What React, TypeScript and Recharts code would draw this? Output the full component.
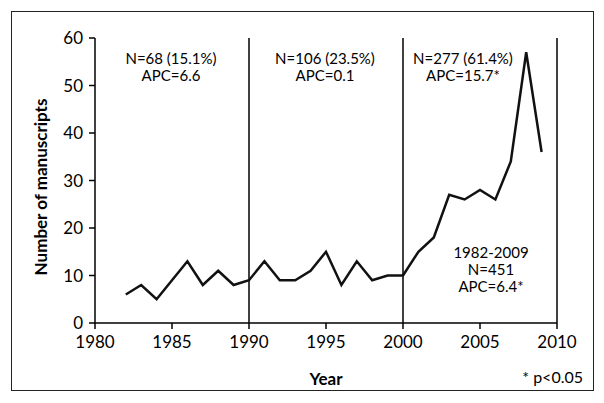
import React from 'react';
import { LineChart, Line, XAxis, YAxis, ReferenceLine, Label } from 'recharts';

// manuscripts per year
const years = [
  1982, 1983, 1984, 1985, 1986, 1987, 1988, 1989,
  1990, 1991, 1992, 1993, 1994, 1995, 1996, 1997, 1998, 1999,
  2000, 2001, 2002, 2003, 2004, 2005, 2006, 2007, 2008, 2009,
];
const counts = [
  6, 8, 5, 9, 13, 8, 11, 8,
  9, 13, 9, 9, 11, 15, 8, 13, 9, 10,
  10, 15, 18, 27, 26, 28, 26, 34, 57, 36,
];
const xTicks = [1980, 1985, 1990, 1995, 2000, 2005, 2010];
const yTicks = [0, 10, 20, 30, 40, 50, 60];
const periodBreaks = [1990, 2000, 2010];

const periodNotes = [
  { lines: ['N=68 (15.1%)', 'APC=6.6'], cx: 171, top: 50 },
  { lines: ['N=106 (23.5%)', 'APC=0.1'], cx: 325, top: 50 },
  { lines: ['N=277 (61.4%)', 'APC=15.7*'], cx: 463, top: 50 },
  { lines: ['1982-2009', 'N=451', 'APC=6.4*'], cx: 491, top: 244 },
];

const data = years.map((year, i) => ({ year, count: counts[i] }));

const FONT = 'Lato, "Open Sans", sans-serif';

export default function App() {
  const tickStyle = { fill: '#000', fontSize: 17, fontFamily: FONT };
  return (
    <div style={{ position: 'absolute', left: 0, top: 0, width: 604, height: 403, background: '#fff', fontFamily: FONT }}>
      <div
        style={{
          position: 'absolute', left: 11, top: 11, width: 583, height: 380,
          boxSizing: 'border-box', border: '1px solid #222',
        }}
      />
      <LineChart width={604} height={403} data={data} margin={{ top: 38, right: 47, bottom: 18, left: 20 }}>
        <XAxis
          dataKey="year"
          type="number"
          domain={[1980, 2010]}
          ticks={xTicks}
          tick={tickStyle}
          tickSize={6}
          tickMargin={7}
          height={62}
          stroke="#000"
          strokeWidth={1.5}
        >
          <Label
            content={() => (
              <text x={326} y={378} textAnchor="middle" dominantBaseline="central"
                style={{ fontFamily: FONT, fontSize: 17, fontWeight: 700, fill: '#000' }}>
                Year
              </text>
            )}
          />
        </XAxis>
        <YAxis
          type="number"
          domain={[0, 60]}
          ticks={yTicks}
          tick={tickStyle}
          tickSize={6}
          tickMargin={6}
          width={75}
          stroke="#000"
          strokeWidth={1.5}
        >
          <Label
            content={() => (
              <text x={40} y={187} transform="rotate(-90 40 187)" textAnchor="middle" dominantBaseline="central"
                style={{ fontFamily: FONT, fontSize: 17, fontWeight: 700, fill: '#000' }}>
                Number of manuscripts
              </text>
            )}
          />
        </YAxis>
        {periodBreaks.map((x) => (
          <ReferenceLine key={x} x={x} stroke="#000" strokeWidth={1.5} ifOverflow="visible" />
        ))}
        <Line
          type="linear"
          dataKey="count"
          stroke="#111"
          strokeWidth={2.5}
          dot={false}
          isAnimationActive={false}
        />
      </LineChart>
      {periodNotes.map((n) => (
        <div
          key={n.lines[0]}
          style={{
            position: 'absolute', left: n.cx - 100, top: n.top, width: 200,
            textAlign: 'center', fontSize: 15, lineHeight: '17px', color: '#000',
          }}
        >
          {n.lines.map((l) => (
            <div key={l}>{l}</div>
          ))}
        </div>
      ))}
      <div style={{ position: 'absolute', right: 21, top: 367, fontSize: 16, lineHeight: '20px', color: '#000' }}>
        * p&lt;0.05
      </div>
    </div>
  );
}
